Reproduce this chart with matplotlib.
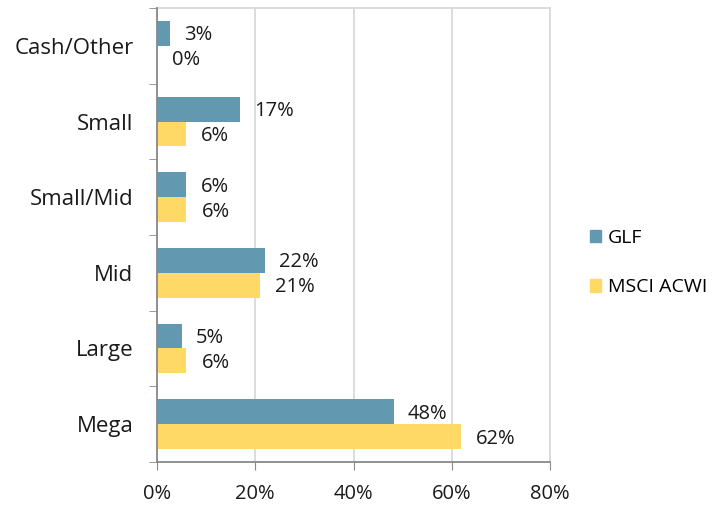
import matplotlib
matplotlib.use("Agg")
import matplotlib.pyplot as plt
import numpy as np
from matplotlib.patches import Patch

plt.rcParams['font.family'] = ['Open Sans', 'DejaVu Sans']

categories = ["Mega", "Large", "Mid", "Small/Mid", "Small", "Cash/Other"]
glf = [48.2, 5.0, 22.0, 6.0, 16.9, 2.6]
acwi = [61.8, 6.0, 21.0, 6.0, 5.8, 0.0]
series_names = ["GLF", "MSCI ACWI"]
xticks = [0, 20, 40, 60, 80]

c_glf = "#6399B0"
c_acwi = "#FFD966"
txt = "#1a1a1a"

fig = plt.figure(figsize=(7.14, 5.07), dpi=100)
ax = fig.add_axes([0.2199, 0.0888, 0.5504, 0.8954])

y = np.arange(len(categories))
h = 0.33
ax.barh(y + h / 2, glf, height=h, color=c_glf, zorder=3)
ax.barh(y - h / 2, acwi, height=h, color=c_acwi, zorder=3)

fs = 14.5
for yi, v in zip(y, glf):
    ax.annotate(f"{v:.0f}%", (v, yi + h / 2), xytext=(14, -2), textcoords="offset pixels",
                va="center", ha="left", fontsize=fs, color=txt)
for yi, v in zip(y, acwi):
    ax.annotate(f"{v:.0f}%", (v, yi - h / 2), xytext=(15, -2), textcoords="offset pixels",
                va="center", ha="left", fontsize=fs, color=txt)

ax.set_xlim(0, 80)
ax.set_ylim(-0.5, len(categories) - 0.5)
ax.set_xticks(xticks)
ax.set_xticklabels([f"{t}%" for t in xticks], fontsize=fs, color=txt)
ax.set_yticks(y)
ax.set_yticklabels(categories, fontsize=16, color=txt)
ax.set_yticks(np.arange(-0.5, len(categories), 1.0), minor=True)
ax.tick_params(axis="y", which="major", length=0, pad=17)
ax.tick_params(axis="y", which="minor", length=6, color="#888888", direction="out")
ax.tick_params(axis="x", length=6, color="#888888", direction="out", pad=10)

ax.grid(axis="x", color="#D9D9D9", linewidth=1.3, zorder=0)
for s in ["left", "bottom"]:
    ax.spines[s].set_color("#888888")
    ax.spines[s].set_linewidth(1.3)
    ax.spines[s].set_zorder(4)
for s in ["top", "right"]:
    ax.spines[s].set_color("#D9D9D9")
    ax.spines[s].set_linewidth(1.3)

handles = [Patch(color=c_glf), Patch(color=c_acwi)]
fig.legend(handles, series_names, loc="center left", bbox_to_anchor=(0.826, 0.482),
           frameon=False, fontsize=14, handlelength=0.6, handleheight=0.6,
           handletextpad=0.35, labelspacing=1.6, borderpad=0, borderaxespad=0)

fig.savefig("out.png", dpi=100)
